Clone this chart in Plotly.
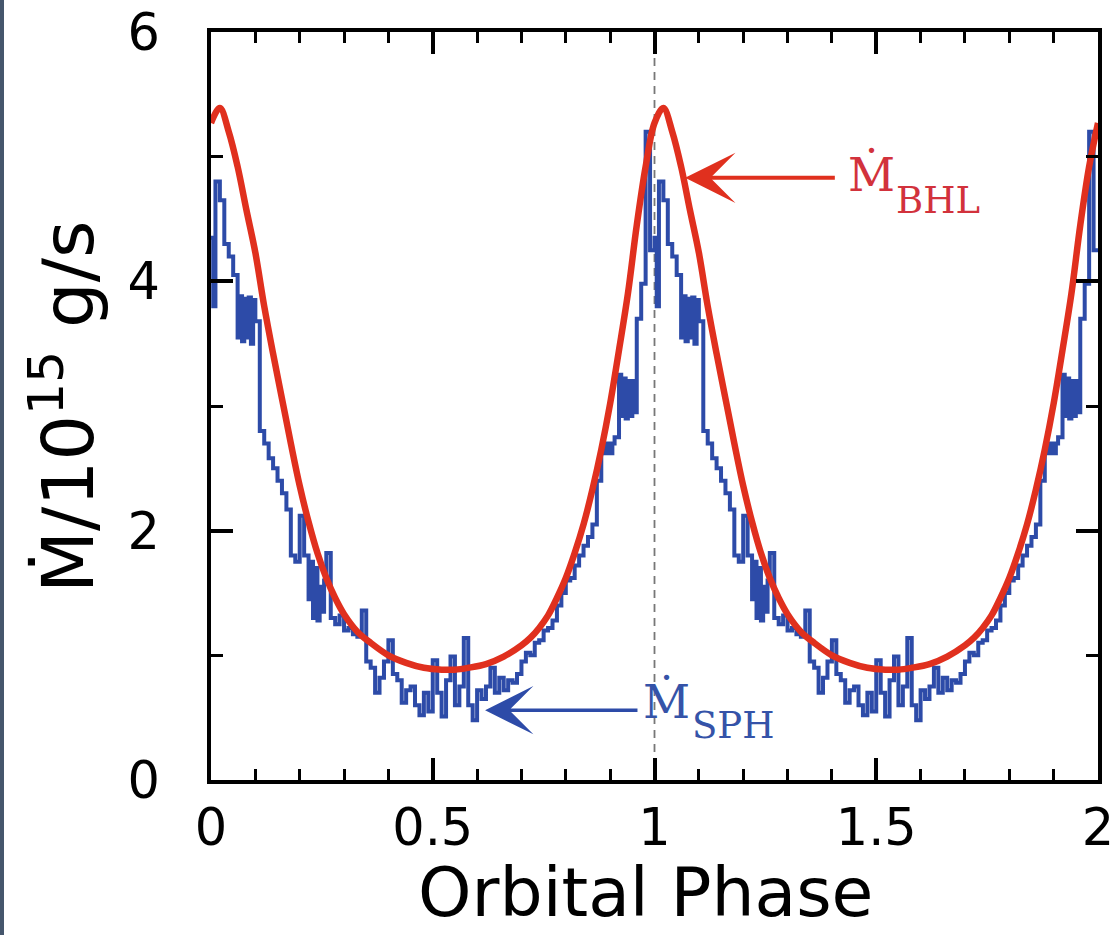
import plotly.graph_objects as go

# SPH accretion rate per phase bin over one orbit (units of 1e15 g/s),
# one row per 0.1 in phase
phase_bin = 0.005
sph_rate = [
    4.35, 3.80, 4.80, 4.80, 4.65, 4.65, 4.30, 4.30, 4.20, 4.20,
    4.05, 4.05, 3.55, 3.88, 3.52, 3.86, 3.55, 3.87, 3.50, 3.85,
    3.68, 3.68, 2.80, 2.80, 2.70, 2.70, 2.58, 2.58, 2.50, 2.50,
    2.40, 2.40, 2.30, 2.30, 2.17, 2.17, 1.80, 1.80, 1.75, 1.75,
    2.12, 2.12, 1.80, 1.80, 1.45, 1.75, 1.30, 1.70, 1.28, 1.55,
    1.35, 1.60, 1.82, 1.82, 1.30, 1.30, 1.25, 1.25, 1.32, 1.32,
    1.20, 1.20, 1.22, 1.22, 1.17, 1.17, 1.15, 1.15, 1.36, 1.36,
    0.95, 0.95, 0.90, 0.90, 0.70, 0.70, 0.82, 0.82, 0.95, 0.95,
    1.12, 1.12, 0.85, 0.85, 0.80, 0.80, 0.62, 0.62, 0.72, 0.72,
    0.75, 0.75, 0.60, 0.60, 0.52, 0.52, 0.70, 0.70, 0.55, 0.55,
    0.96, 0.96, 0.70, 0.70, 0.51, 0.51, 0.80, 0.80, 0.99, 0.99,
    0.60, 0.60, 0.75, 0.75, 1.14, 1.14, 0.60, 0.60, 0.48, 0.48,
    0.72, 0.72, 0.65, 0.65, 0.75, 0.75, 0.90, 0.90, 0.70, 0.70,
    0.82, 0.82, 0.72, 0.72, 0.80, 0.80, 0.78, 0.78, 0.85, 0.85,
    0.95, 0.95, 1.02, 1.02, 1.00, 1.00, 1.10, 1.10, 1.12, 1.12,
    1.20, 1.20, 1.22, 1.22, 1.28, 1.28, 1.40, 1.40, 1.50, 1.50,
    1.60, 1.60, 1.62, 1.62, 1.72, 1.72, 1.80, 1.80, 1.88, 1.88,
    1.95, 1.95, 2.05, 2.05, 2.40, 2.40, 2.62, 2.70, 2.62, 2.70,
    2.62, 2.70, 2.75, 2.75, 3.25, 2.92, 3.22, 2.90, 3.20, 2.92,
    3.20, 2.95, 3.70, 3.70, 3.98, 3.98, 5.20, 5.20, 4.25, 4.25,
]

# Bondi-Hoyle-Lyttleton rate sampled over one orbit
bhl_phase = [0.00, 0.02, 0.04, 0.06, 0.08, 0.10, 0.12, 0.14, 0.16, 0.18,
             0.20, 0.22, 0.24, 0.26, 0.28, 0.30, 0.33, 0.36, 0.40, 0.44,
             0.48, 0.52, 0.55, 0.58, 0.62, 0.66, 0.70, 0.72, 0.74, 0.76,
             0.78, 0.80, 0.82, 0.84, 0.86, 0.88, 0.90, 0.92, 0.94, 0.96,
             0.98]
bhl_rate = [5.27, 5.39, 5.20, 4.92, 4.57, 4.23, 3.80, 3.42, 3.06, 2.70,
            2.36, 2.07, 1.82, 1.62, 1.46, 1.33, 1.19, 1.10, 1.00, 0.94,
            0.90, 0.885, 0.885, 0.90, 0.93, 0.99, 1.08, 1.14, 1.22, 1.32,
            1.46, 1.62, 1.82, 2.05, 2.33, 2.65, 3.02, 3.45, 3.90, 4.45,
            4.92]

n_orbits = 2
x_ticks = [0, 0.5, 1, 1.5, 2]
y_ticks = [0, 2, 4, 6]

RED = "#e0301e"
BLUE = "#2d4ba8"
RED_TXT = "#d2323c"
BLUE_TXT = "#3553a8"
SANS = "DejaVu Sans"
SERIF = "DejaVu Serif"

# two orbits: repeat the per-orbit values
sph_x = [k * phase_bin for k in range(n_orbits * len(sph_rate))] + [float(n_orbits)]
sph_y = sph_rate * n_orbits + [sph_rate[-1]]
bhl_x = [p + k for k in range(n_orbits) for p in bhl_phase] + [float(n_orbits)]
bhl_y = bhl_rate * n_orbits + [bhl_rate[0]]

fig = go.Figure()
fig.add_trace(go.Scatter(x=sph_x, y=sph_y, mode="lines",
                         line=dict(color=BLUE, width=4, shape="hv"),
                         showlegend=False))
fig.add_trace(go.Scatter(x=bhl_x, y=bhl_y, mode="lines",
                         line=dict(color=RED, width=6.5, shape="spline", smoothing=1.0),
                         showlegend=False))

# periastron marker
fig.add_shape(type="line", x0=1, x1=1, y0=0, y1=6, xref="x", yref="y",
              line=dict(color="#777777", width=1.8, dash="8px,6px"), layer="below")

# dark edge strip on the left
L, R, T, B = 211, 13, 32, 155
W, H = 1111 - L - R, 935 - T - B
fig.add_shape(type="rect", xref="paper", yref="paper",
              x0=-(L + 2) / W, x1=(-L + 4) / W, y0=-(B + 60) / H, y1=1 + (T + 60) / H,
              fillcolor="#45566c", line=dict(width=0))

# arrows
fig.add_annotation(x=1.069, y=4.83, ax=1.41, ay=4.83, xref="x", yref="y",
                   axref="x", ayref="y", text="", showarrow=True,
                   arrowhead=3, arrowsize=2.1, arrowwidth=4, arrowcolor=RED)
fig.add_annotation(x=0.618, y=0.56, ax=0.965, ay=0.56, xref="x", yref="y",
                   axref="x", ayref="y", text="", showarrow=True,
                   arrowhead=3, arrowsize=2.3, arrowwidth=3.5, arrowcolor=BLUE)

# labels for the two rates
fig.add_annotation(x=1.490, y=4.86, xref="x", yref="y", text="Ṁ", showarrow=False,
                   xanchor="center", yanchor="middle",
                   font=dict(family=SERIF, size=46, color=RED_TXT))
fig.add_annotation(x=1.639, y=4.65, xref="x", yref="y", text="BHL", showarrow=False,
                   xanchor="center", yanchor="middle",
                   font=dict(family=SERIF, size=37, color=RED_TXT))
fig.add_annotation(x=1.026, y=0.63, xref="x", yref="y", text="Ṁ", showarrow=False,
                   xanchor="center", yanchor="middle",
                   font=dict(family=SERIF, size=46, color=BLUE_TXT))
fig.add_annotation(x=1.177, y=0.44, xref="x", yref="y", text="SPH", showarrow=False,
                   xanchor="center", yanchor="middle",
                   font=dict(family=SERIF, size=37, color=BLUE_TXT))

# axis titles
fig.add_annotation(x=(645 - L) / W, y=(780 - 892) / H, xref="paper", yref="paper",
                   xanchor="center", yanchor="middle",
                   text="Orbital Phase", showarrow=False,
                   font=dict(family=SANS, size=68, color="black"))
fig.add_annotation(x=(63 - L) / W, y=(780 - 407) / H, xref="paper", yref="paper",
                   xanchor="center", yanchor="middle",
                   text="Ṁ/10<sup>15</sup> g/s", textangle=-90, showarrow=False,
                   font=dict(family=SANS, size=72, color="black"))

axis_common = dict(showline=True, linecolor="black", linewidth=3.5, mirror="ticks",
                   ticks="inside", ticklen=22, tickwidth=3.5, tickcolor="black",
                   showgrid=False, zeroline=False, ticklabeloverflow="allow",
                   automargin=False,
                   tickfont=dict(family=SANS, size=51, color="black"))

fig.update_xaxes(range=[0, 2], tickvals=x_ticks, ticktext=[str(v) for v in x_ticks],
                 minor=dict(dtick=0.1, ticklen=11, tickwidth=3, ticks="inside",
                            tickcolor="black", showgrid=False),
                 **axis_common)
fig.update_yaxes(range=[0, 6], tickvals=y_ticks, ticklabelstandoff=37,
                 minor=dict(dtick=1, ticklen=12, tickwidth=3, ticks="inside",
                            tickcolor="black", showgrid=False),
                 **axis_common)

fig.update_layout(width=1111, height=935, margin=dict(l=L, r=R, t=T, b=B),
                  plot_bgcolor="white", paper_bgcolor="white", showlegend=False)

fig.write_html("out.html")
